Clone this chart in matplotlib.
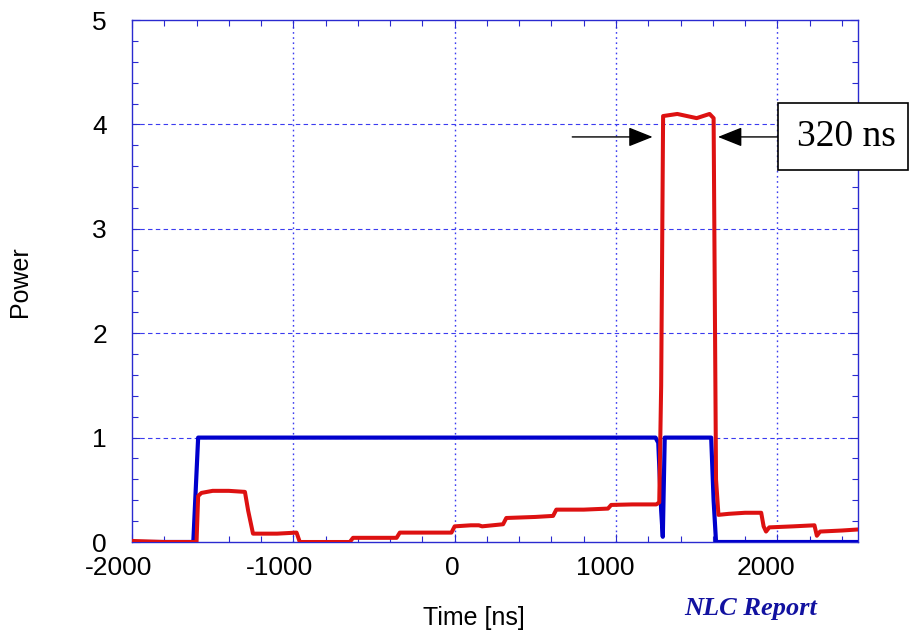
import matplotlib.pyplot as plt
from matplotlib.patches import Rectangle
from matplotlib.ticker import MultipleLocator
from matplotlib.transforms import ScaledTranslation

plt.rcParams["axes.unicode_minus"] = False

# --- data ---
# blue: input pulse (normalised power)
t_blue = [-2000, -1620, -1590, 1245, 1262, 1280, 1290, 1302, 1590, 1605, 1620, 2500]
p_blue = [0.0, 0.0, 1.0, 1.0, 0.95, 0.3, 0.05, 1.0, 1.0, 0.4, 0.0, 0.0]

# red: compressed output pulse
t_red = [-2000, -1800, -1600, -1590, -1570, -1500, -1400, -1300, -1280, -1250,
         -1100, -980, -960, -800, -650, -630, -500, -360, -340, -200,
         -20, 0, 100, 150, 170, 300, 320, 500, 610, 630, 800, 950, 970,
         1100, 1250, 1268, 1280, 1292, 1380, 1440, 1500, 1580, 1605,
         1620, 1635, 1700, 1800, 1900, 1915, 1930, 1950, 2100, 2230,
         2245, 2265, 2400, 2500]
p_red = [0.01, 0.0, 0.0, 0.44, 0.47, 0.49, 0.49, 0.48, 0.3, 0.08,
         0.08, 0.09, 0.0, 0.0, 0.0, 0.04, 0.04, 0.04, 0.09, 0.09,
         0.09, 0.15, 0.16, 0.16, 0.15, 0.17, 0.23, 0.24, 0.25, 0.31,
         0.31, 0.32, 0.355, 0.36, 0.36, 0.38, 1.5, 4.08, 4.10, 4.08, 4.06,
         4.10, 4.06, 0.6, 0.26, 0.27, 0.28, 0.28, 0.15, 0.1, 0.14, 0.15,
         0.16, 0.06, 0.1, 0.11, 0.12]

xticks = [-2000, -1000, 0, 1000, 2000]
yticks = [0, 1, 2, 3, 4, 5]

spine_blue = "#2a2ad0"
grid_blue = "#3b3bf0"
sans = "Liberation Sans"
serif = "Liberation Serif"

fig = plt.figure(figsize=(9.1, 6.34), dpi=100)
ax = fig.add_axes([132 / 910, 1 - 542 / 634, 726 / 910, 522 / 634])

ax.plot(t_blue, p_blue, color="#0000cc", lw=3.0, zorder=3, solid_joinstyle="round")
ax.plot(t_red, p_red, color="#dd1111", lw=2.9, zorder=4, solid_joinstyle="round")

ax.set_xlim(-2000, 2500)
ax.set_ylim(0, 5)
ax.set_xticks(xticks)
ax.set_yticks(yticks)
ax.xaxis.set_minor_locator(MultipleLocator(200))
ax.yaxis.set_minor_locator(MultipleLocator(0.2))
ax.tick_params(which="both", direction="in", top=True, right=True,
               color=spine_blue, labelsize=19)
ax.tick_params(axis="x", pad=10)
ax.tick_params(axis="y", pad=18)
ax.tick_params(which="major", length=6, width=0.8)
ax.tick_params(which="minor", length=4, width=0.8)
for lab in ax.get_yticklabels():
    lab.set_family(sans)
# the x labels sit a little left of their ticks in the reference
for lab in ax.get_xticklabels():
    lab.set_family(sans)
    n = len(lab.get_text())
    dx = -(2.5 + 2.8 * (n - 1)) / 100
    lab.set_transform(lab.get_transform() + ScaledTranslation(dx, 0, fig.dpi_scale_trans))
for s in ax.spines.values():
    s.set_color(spine_blue)
    s.set_linewidth(1.0)

# grid: horizontal dashed, vertical dotted
for y in yticks[1:-1]:
    ax.axhline(y, color=grid_blue, lw=0.8, ls=(0, (4, 3)), zorder=1)
for x in xticks[1:]:
    ax.axvline(x, color=grid_blue, lw=1.0, ls=(0, (1.2, 2.5)), zorder=1)

fig.text(20 / 910, 1 - 282 / 634, "Power", fontsize=18, family=sans,
         rotation=90, ha="center", va="center")
fig.text(474 / 910, 1 - 618 / 634, "Time [ns]", fontsize=18, family=sans,
         ha="center", va="center")
fig.text(751 / 910, 1 - 609 / 634, "NLC Report", fontsize=19, color="#1212a0",
         family=serif, style="italic", weight="bold", ha="center", va="center")

# 320 ns width annotation
arrow = dict(arrowstyle="-|>,head_length=1.0,head_width=0.4",
             color="black", lw=1.0, mutation_scale=15, shrinkA=0, shrinkB=0)
ax.annotate("", xy=(1227, 3.88), xytext=(729, 3.88), arrowprops=arrow, zorder=6)
ax.annotate("", xy=(1632, 3.88), xytext=(2025, 3.88), arrowprops=arrow, zorder=6)
box = Rectangle((778 / 910, 1 - 170 / 634), 130 / 910, 67 / 634,
                transform=fig.transFigure, facecolor="white",
                edgecolor="black", lw=1.2, zorder=7)
fig.patches.append(box)
fig.text(846 / 910, 1 - 137 / 634, "320 ns", fontsize=27,
         family=serif, ha="center", va="center", zorder=8)

fig.savefig("out.png", dpi=100)
